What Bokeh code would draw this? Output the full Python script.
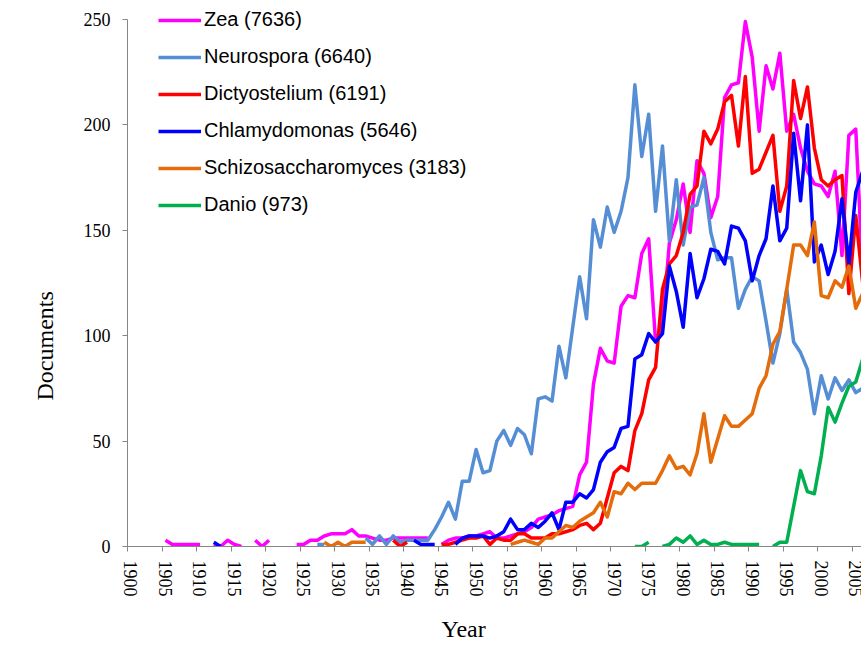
import math
from bokeh.plotting import figure
from bokeh.models import Range1d, FixedTicker, Legend, LegendItem, Title
from bokeh.embed import file_html
from bokeh.resources import INLINE

N = None

# Documents per year; None = no value (gap in line)
zea_start = 1905
zea = [3, 1, 1, 1, 1, 1, N, 1, 0, 3, 1, 0, N, 3, 0, 3, N, N, N, 1,
       1, 3, 3, 5, 6, 6, 6, 8, 5, 5, 4, 3, 3, 4, 4, 4, 4, 4, 4, N,
       1, 3, 4, 4, 5, 5, 6, 7, 4, 4, 5, 6, 7, 9, 13, 14, 15, 17, 18, 19,
       34, 40, 77, 94, 88, 87, 114, 119, 118, 139, 146, 97, 105, 144, 155, 172, 149, 183, 177, 156,
       166, 213, 219, 220, 249, 232, 197, 228, 217, 234, 197, 205, 189, 178, 172, 171, 166, 178, 138, 195,
       198, 130]

neuro_start = 1927
neuro = [1, 1, N, N, N, N, N, 4, 1, 5, 1, 5, 2, 3, 3, 3, 3, 8, 14, 21,
         13, 31, 31, 46, 35, 36, 50, 55, 48, 56, 53, 44, 70, 71, 69, 95, 80, 104, 128, 108,
         155, 142, 161, 149, 159, 175, 219, 185, 205, 159, 190, 145, 174, 143, 161, 162, 175, 149, 136, 137,
         137, 113, 122, 128, 126, 107, 87, 101, 122, 97, 92, 84, 63, 81, 70, 80, 74, 79, 73, 75]

dicty_start = 1938
dicty = [3, 0, 2, N, N, N, N, 1, 1, 2, 3, 4, 4, 5, 1, 4, 3, 3, 6, 6,
         4, 4, 4, 6, 6, 7, 8, 10, 11, 8, 11, 23, 35, 38, 36, 55, 63, 79, 85, 122,
         134, 138, 149, 167, 171, 197, 191, 198, 211, 214, 190, 223, 177, 179, 187, 195, 159, 171, 221, 203,
         218, 189, 174, 171, 174, 176, 120, 157, 125]

chlamy_start = 1912
chlamy = [2, 0, N, N, N, N, N, N, N, N, N, N, N, N, N, N, N, N, N, N,
          N, N, N, N, N, N, N, N, N, 3, 1, 1, 1, N, N, 1, 4, 5, 5, 5,
          4, 5, 7, 13, 8, 8, 11, 9, 12, 16, 8, 21, 21, 25, 23, 27, 40, 45, 47, 56,
          57, 89, 91, 101, 97, 101, 133, 121, 104, 139, 118, 127, 141, 140, 134, 152, 151, 145, 126, 138,
          146, 171, 145, 151, 196, 164, 200, 135, 143, 129, 140, 165, 134, 168, 178]

schizo_start = 1928
schizo = [2, 0, 2, 0, 2, 2, 2, N, N, N, N, N, N, N, N, N, N, N, N, N,
          N, N, N, N, N, N, N, 1, 2, 3, 2, 1, 4, 4, 7, 10, 9, 12, 14, 16,
          21, 14, 26, 25, 30, 27, 30, 30, 30, 36, 43, 37, 38, 34, 44, 63, 40, 51, 62, 57,
          57, 60, 63, 75, 81, 96, 102, 122, 143, 143, 138, 154, 119, 118, 126, 123, 133, 113, 120]

danio_start = 1973
danio = [0, 0, 2, N, 0, 1, 4, 2, 5, 1, 3, 1, 1, 2, 1, 1, 1, 1, 1, N,
         0, 2, 2, 19, 36, 26, 25, 43, 66, 59, 68, 76, 78, 89]

series_names = ["Zea (7636)", "Neurospora (6640)", "Dictyostelium (6191)",
                "Chlamydomonas (5646)", "Schizosaccharomyces (3183)", "Danio (973)"]
series_data = [(zea_start, zea), (neuro_start, neuro), (dicty_start, dicty),
               (chlamy_start, chlamy), (schizo_start, schizo), (danio_start, danio)]
series_colors = ["#FF00FF", "#558ED5", "#FF0000", "#0000FF", "#E46C0A", "#00B050"]

year_labels = list(range(1900, 2010, 5))
y_ticks = [0, 50, 100, 150, 200, 250]
y_max = 250

p = figure(width=861, height=655, output_backend="svg", toolbar_location=None,
           x_range=Range1d(1899.5, 2005.83), y_range=Range1d(0, 257.1),
           min_border_left=127, min_border_right=0, min_border_top=4, min_border_bottom=108)
p.xgrid.visible = False
p.ygrid.visible = False
p.outline_line_color = None
p.background_fill_color = "white"
p.border_fill_color = "white"

items = []
for name, (start, vals), col in zip(series_names, series_data, series_colors):
    xs = [start + i for i in range(len(vals))]
    ys = [float("nan") if v is None else v for v in vals]
    r = p.line(xs, ys, line_color=col, line_width=3.5, line_join="round")
    items.append(LegendItem(label=name, renderers=[r]))

legend = Legend(items=items, location=(31, 330), orientation="vertical",
                glyph_width=43, glyph_height=20, label_height=20, label_standoff=3,
                spacing=14, padding=0, margin=0, border_line_color=None,
                background_fill_alpha=0, label_text_font="Liberation Sans",
                label_text_font_size="20px", label_text_color="black")
p.add_layout(legend)

ax = p.xaxis[0]
ax.ticker = FixedTicker(ticks=year_labels, minor_ticks=[t - 0.5 for t in year_labels])
ax.major_tick_line_color = None
ax.major_tick_out = 0
ax.major_tick_in = 0
ax.minor_tick_line_color = "#868686"
ax.minor_tick_out = 5
ax.minor_tick_in = 0
ax.axis_line_color = "#868686"
ax.major_label_orientation = -math.pi / 2
ax.major_label_standoff = 9
ax.major_label_text_font = "Liberation Serif"
ax.major_label_text_font_size = "18px"
ax.major_label_text_color = "black"

ay = p.yaxis[0]
ay.ticker = FixedTicker(ticks=y_ticks)
ay.bounds = (0, y_max)
ay.minor_tick_line_color = None
ay.major_tick_line_color = "#868686"
ay.major_tick_out = 5
ay.major_tick_in = 0
ay.axis_line_color = "#868686"
ay.major_label_standoff = 12
ay.major_label_text_font = "Liberation Serif"
ay.major_label_text_font_size = "18px"
ay.major_label_text_color = "black"

ytitle = Title(text="Documents", align="left", offset=146, standoff=46,
               text_font="Liberation Serif", text_font_style="normal",
               text_font_size="24px", text_color="black")
p.add_layout(ytitle, "left")

xtitle = Title(text="Year", align="left", offset=314, standoff=28,
               text_font="Liberation Serif", text_font_style="normal",
               text_font_size="24px", text_color="black")
p.add_layout(xtitle, "below")

open("out.html", "w").write(file_html(p, INLINE))
